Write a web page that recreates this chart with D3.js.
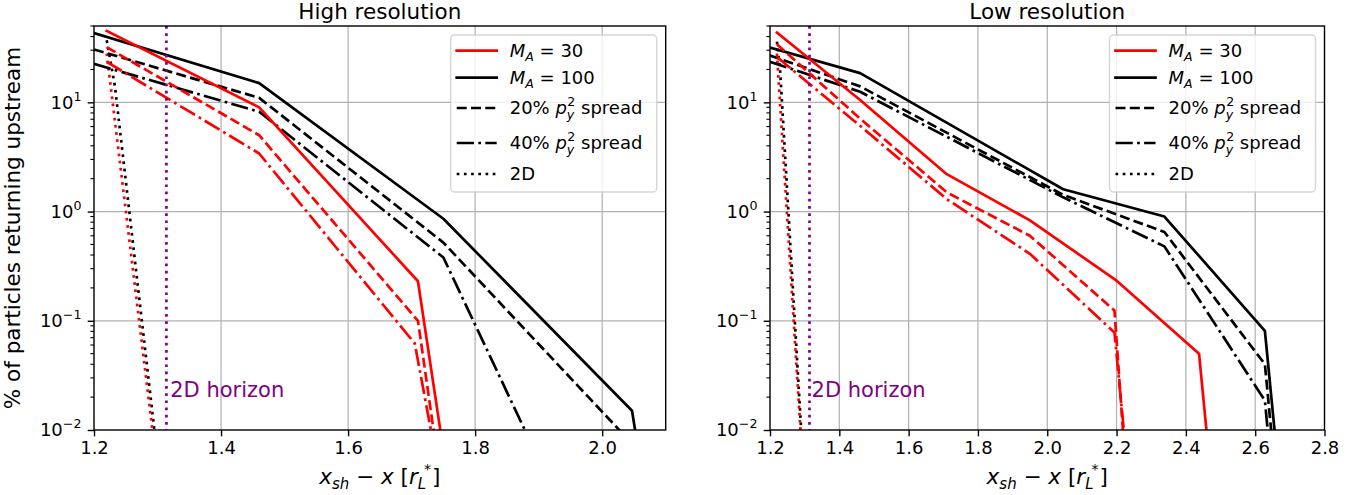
<!DOCTYPE html>
<html>
<head>
<meta charset="utf-8">
<script src="https://cdn.jsdelivr.net/npm/d3@7/dist/d3.min.js"></script>
<style>
    body { margin: 0; background: #fff; }
    svg { font-family: "DejaVu Sans", sans-serif; }
</style>
</head>
<body>
<svg id="chart" width="1364" height="495"></svg>
<script>
// ---- data ----
var yLimits = [0.01, 50];
var yMajorTicks = [0.01, 0.1, 1, 10];
var xLimitsHigh = [1.2, 2.1];
var xLimitsLow = [1.2, 2.8];
var xTicksHigh = [1.2, 1.4, 1.6, 1.8, 2.0];
var xTicksLow = [1.2, 1.4, 1.6, 1.8, 2.0, 2.2, 2.4, 2.6, 2.8];
var horizonX = 1.314;
var horizonLabelPos = [1.32, 0.02];

// high resolution: [x, % returning]
var hiMA30 = [[1.22, 45], [1.46, 9.0], [1.71, 0.23], [1.75, 0.0065]];
var hiMA30_20 = [[1.22, 32], [1.46, 5.0], [1.71, 0.10], [1.74, 0.006]];
var hiMA30_40 = [[1.22, 23.5], [1.46, 3.4], [1.705, 0.062], [1.74, 0.005]];
var hiMA100 = [[1.2, 43], [1.46, 15], [1.75, 0.86], [2.047, 0.015], [2.06, 0.005]];
var hiMA100_20 = [[1.2, 30.5], [1.46, 11], [1.75, 0.52], [2.04, 0.0083]];
var hiMA100_40 = [[1.2, 22.5], [1.46, 8.2], [1.75, 0.38], [1.9, 0.0054]];
var hi2D_MA30 = [[1.22, 28], [1.30, 0.0041]];
var hi2D_MA100 = [[1.22, 37], [1.233, 14], [1.30, 0.0056]];

// low resolution
var loMA30 = [[1.22, 43.5], [1.46, 10.5], [1.71, 2.2], [1.95, 0.83], [2.197, 0.237], [2.438, 0.050], [2.465, 0.0065]];
var loMA30_20 = [[1.22, 34], [1.46, 7.1], [1.71, 1.5], [1.95, 0.60], [2.194, 0.124], [2.225, 0.005]];
var loMA30_40 = [[1.22, 26], [1.46, 6.1], [1.71, 1.3], [1.95, 0.41], [2.194, 0.078], [2.23, 0.005]];
var loMA100 = [[1.2, 31.7], [1.46, 18.5], [2.046, 1.6], [2.338, 0.90], [2.628, 0.081], [2.665, 0.005]];
var loMA100_20 = [[1.2, 26.8], [1.46, 14], [2.046, 1.42], [2.338, 0.65], [2.628, 0.040], [2.655, 0.005]];
var loMA100_40 = [[1.2, 23.5], [1.46, 12.5], [2.046, 1.35], [2.338, 0.48], [2.628, 0.0186], [2.645, 0.005]];
var lo2D_MA30 = [[1.22, 28], [1.295, 0.0044]];
var lo2D_MA100 = [[1.22, 36], [1.229, 20], [1.297, 0.0042]];

// ---- styles ----
var dashes = {
    solid: null,
    dashed: "10,4.3",
    dashdot: "17.3,4.3,2.7,4.3",
    dotted: "2.7,4.5"
};
var lineWidth = 2.7;
var tickFont = 18;
var labelFont = 21.5;

var svg = d3.select('#chart');

function drawPanel(opts) {
    var x = d3.scaleLinear().domain(opts.xDomain).range([opts.left, opts.right]);
    var y = d3.scaleLog().domain(yLimits).range([opts.bottom, opts.top]);
    var g = svg.append("g");

    // clip region for the data lines
    svg.append("clipPath").attr("id", opts.id + "-clip")
        .append("rect")
        .attr("x", opts.left).attr("y", opts.top)
        .attr("width", opts.right - opts.left)
        .attr("height", opts.bottom - opts.top);

    // grid
    g.append("g").selectAll("line")
        .data(opts.xTicks.filter(function (d) { return d > opts.xDomain[0] && d < opts.xDomain[1]; }))
        .enter().append("line")
        .attr("x1", function (d) { return x(d); }).attr("x2", function (d) { return x(d); })
        .attr("y1", opts.top).attr("y2", opts.bottom)
        .attr("stroke", "#b0b0b0").attr("stroke-width", 1.2);
    g.append("g").selectAll("line")
        .data(yMajorTicks.filter(function (d) { return d > yLimits[0]; }))
        .enter().append("line")
        .attr("y1", function (d) { return y(d); }).attr("y2", function (d) { return y(d); })
        .attr("x1", opts.left).attr("x2", opts.right)
        .attr("stroke", "#b0b0b0").attr("stroke-width", 1.2);

    // data lines
    var line = d3.line()
        .x(function (d) { return x(d[0]); })
        .y(function (d) { return y(d[1]); });
    var lines = g.append("g").attr("clip-path", "url(#" + opts.id + "-clip)");
    opts.series.forEach(function (s) {
        lines.append("path")
            .attr("d", line(s.data))
            .attr("fill", "none")
            .attr("stroke", s.color)
            .attr("stroke-width", lineWidth)
            .attr("stroke-linejoin", "round")
            .attr("stroke-linecap", s.dash === "solid" ? "square" : "butt")
            .attr("stroke-dasharray", dashes[s.dash]);
    });

    // 2D horizon marker
    lines.append("line")
        .attr("x1", x(horizonX)).attr("x2", x(horizonX))
        .attr("y1", opts.top).attr("y2", opts.bottom)
        .attr("stroke", "purple").attr("stroke-width", lineWidth)
        .attr("stroke-dasharray", dashes.dotted);
    g.append("text")
        .attr("x", x(horizonLabelPos[0]))
        .attr("y", y(horizonLabelPos[1]))
        .attr("fill", "purple")
        .attr("font-size", 21)
        .text("2D horizon");

    // x axis
    var axisX = d3.axisBottom(x).tickValues(opts.xTicks)
        .tickSize(6.3).tickSizeOuter(0).tickPadding(5)
        .tickFormat(d3.format(".1f"));
    var gx = g.append("g")
        .attr("transform", "translate(0," + opts.bottom + ")")
        .call(axisX);
    gx.select(".domain").remove();
    gx.selectAll(".tick line").attr("stroke", "#000").attr("stroke-width", 1.4);
    gx.selectAll(".tick text")
        .attr("font-size", tickFont)
        .attr("font-family", "DejaVu Sans")
        .attr("fill", "#000");

    // y axis, major ticks with 10^n labels
    var axisY = d3.axisLeft(y).tickValues(yMajorTicks)
        .tickSize(6.3).tickSizeOuter(0).tickPadding(6)
        .tickFormat("");
    var gy = g.append("g")
        .attr("transform", "translate(" + opts.left + ",0)")
        .call(axisY);
    gy.select(".domain").remove();
    gy.selectAll(".tick line").attr("stroke", "#000").attr("stroke-width", 1.4);
    gy.selectAll(".tick text").each(function (d) {
        var t = d3.select(this)
            .attr("font-size", tickFont)
            .attr("font-family", "DejaVu Sans")
            .attr("fill", "#000")
            .attr("dy", "0.32em")
            .attr("x", -12.6);
        var e = Math.round(Math.log10(d));
        t.append("tspan").text("10");
        t.append("tspan").attr("font-size", 12.6).attr("dy", -8)
            .text(e < 0 ? "\u2212" + (-e) : String(e));
    });

    // y minor ticks
    var minor = y.ticks().filter(function (d) {
        var l = Math.log10(d);
        return Math.abs(l - Math.round(l)) > 1e-6;
    });
    g.append("g").selectAll("line")
        .data(minor).enter().append("line")
        .attr("x1", opts.left - 3.6).attr("x2", opts.left)
        .attr("y1", function (d) { return y(d); }).attr("y2", function (d) { return y(d); })
        .attr("stroke", "#000").attr("stroke-width", 1.1);

    // frame
    g.append("rect")
        .attr("x", opts.left).attr("y", opts.top)
        .attr("width", opts.right - opts.left)
        .attr("height", opts.bottom - opts.top)
        .attr("fill", "none").attr("stroke", "#000").attr("stroke-width", 1.4);

    // title
    g.append("text")
        .attr("x", (opts.left + opts.right) / 2).attr("y", 19)
        .attr("text-anchor", "middle")
        .attr("font-size", labelFont)
        .text(opts.title);

    // x label: x_sh - x [r_L^*]
    var xl = g.append("text")
        .attr("x", (opts.left + opts.right) / 2).attr("y", 484)
        .attr("text-anchor", "middle")
        .attr("font-size", labelFont);
    xl.append("tspan").attr("font-style", "italic").text("x");
    xl.append("tspan").attr("font-style", "italic").attr("font-size", 15).attr("dy", 4.5).text("sh");
    xl.append("tspan").attr("dy", -4.5).text(" \u2212 ");
    xl.append("tspan").attr("font-style", "italic").text("x");
    xl.append("tspan").text(" [");
    xl.append("tspan").attr("font-style", "italic").text("r");
    xl.append("tspan").attr("font-style", "italic").attr("font-size", 15).attr("dy", 5).text("L");
    xl.append("tspan").attr("font-size", 14).attr("dx", -2).attr("dy", -15).text("*");
    xl.append("tspan").attr("dx", 1).attr("dy", 10).text("]");

    // legend
    drawLegend(g, opts.right - 9 - 206, opts.top + 9);
}

function drawLegend(g, lx, ly) {
    var lg = g.append("g").attr("transform", "translate(" + lx + "," + ly + ")");
    lg.append("rect")
        .attr("width", 206).attr("height", 157)
        .attr("rx", 4).attr("ry", 4)
        .attr("fill", "#fff").attr("fill-opacity", 0.8)
        .attr("stroke", "#cccccc").attr("stroke-opacity", 0.8).attr("stroke-width", 1.4);

    var rows = [
        { color: "red", dash: "solid", y: 15.7, label: "ma", value: "30" },
        { color: "#000", dash: "solid", y: 42.7, label: "ma", value: "100" },
        { color: "#000", dash: "dashed", y: 73, label: "py", value: "20%" },
        { color: "#000", dash: "dashdot", y: 108, label: "py", value: "40%" },
        { color: "#000", dash: "dotted", y: 139, label: "plain", value: "2D" }
    ];
    rows.forEach(function (r) {
        lg.append("line")
            .attr("x1", 6).attr("x2", 46)
            .attr("y1", r.y).attr("y2", r.y)
            .attr("stroke", r.color).attr("stroke-width", lineWidth)
            .attr("stroke-linecap", r.dash === "solid" ? "square" : "butt")
            .attr("stroke-dasharray", dashes[r.dash]);
        var t = lg.append("text")
            .attr("x", 59).attr("y", r.y + 6)
            .attr("font-size", tickFont);
        if (r.label === "ma") {
            t.append("tspan").attr("font-style", "italic").text("M");
            t.append("tspan").attr("font-style", "italic").attr("font-size", 12.6).attr("dy", 4).text("A");
            t.append("tspan").attr("dy", -4).text(" = " + r.value);
        } else if (r.label === "py") {
            t.append("tspan").text(r.value + " ");
            t.append("tspan").attr("font-style", "italic").text("p");
            t.append("tspan").attr("font-style", "italic").attr("font-size", 12.6).attr("dy", 5).text("y");
            t.append("tspan").attr("font-size", 12.6).attr("dx", -7).attr("dy", -13).text("2");
            t.append("tspan").attr("dy", 8).text(" spread");
        } else {
            t.text(r.value);
        }
    });
}

drawPanel({
    id: "high", title: "High resolution",
    left: 94, right: 665.7, top: 26, bottom: 430,
    xDomain: xLimitsHigh, xTicks: xTicksHigh,
    series: [
        { data: hi2D_MA100, color: "#000", dash: "dotted" },
        { data: hi2D_MA30, color: "red", dash: "dotted" },
        { data: hiMA100, color: "#000", dash: "solid" },
        { data: hiMA100_20, color: "#000", dash: "dashed" },
        { data: hiMA100_40, color: "#000", dash: "dashdot" },
        { data: hiMA30, color: "red", dash: "solid" },
        { data: hiMA30_20, color: "red", dash: "dashed" },
        { data: hiMA30_40, color: "red", dash: "dashdot" }
    ]
});

drawPanel({
    id: "low", title: "Low resolution",
    left: 770, right: 1324.5, top: 26, bottom: 430,
    xDomain: xLimitsLow, xTicks: xTicksLow,
    series: [
        { data: lo2D_MA100, color: "#000", dash: "dotted" },
        { data: lo2D_MA30, color: "red", dash: "dotted" },
        { data: loMA100, color: "#000", dash: "solid" },
        { data: loMA100_20, color: "#000", dash: "dashed" },
        { data: loMA100_40, color: "#000", dash: "dashdot" },
        { data: loMA30, color: "red", dash: "solid" },
        { data: loMA30_20, color: "red", dash: "dashed" },
        { data: loMA30_40, color: "red", dash: "dashdot" }
    ]
});

// shared y label
svg.append("text")
    .attr("transform", "translate(20," + ((26 + 430) / 2) + ") rotate(-90)")
    .attr("text-anchor", "middle")
    .attr("font-size", labelFont)
    .text("% of particles returning upstream");
</script>
</body>
</html>
